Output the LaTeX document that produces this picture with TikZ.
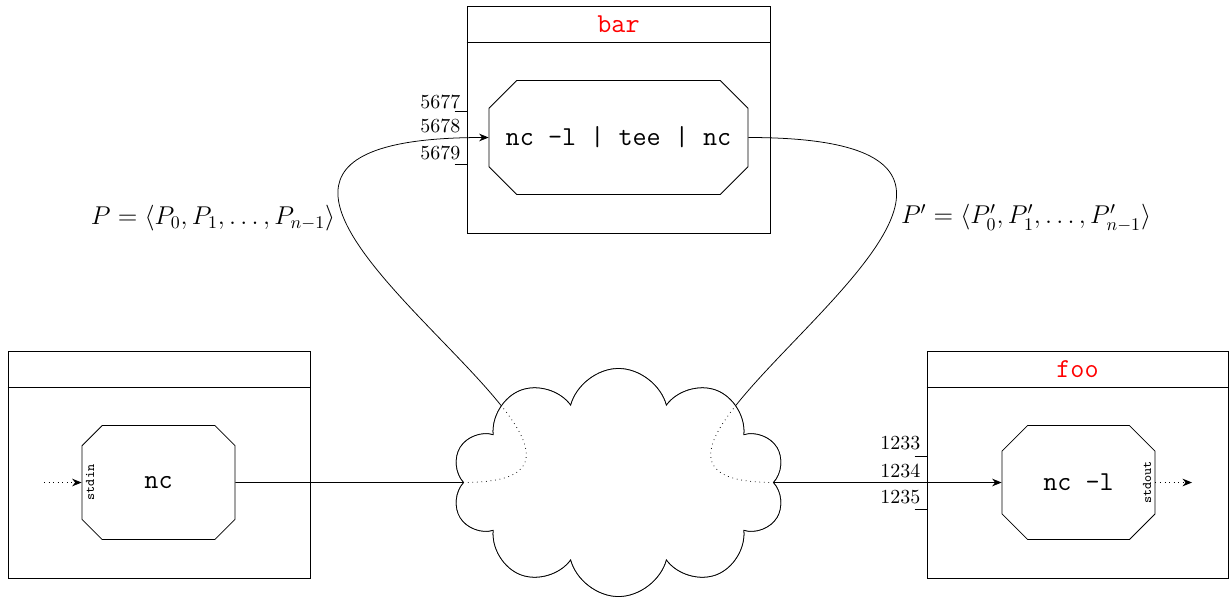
\documentclass[tikz,border=0pt]{standalone}
\usetikzlibrary{shapes.misc,shapes.symbols,arrows.meta,calc}
\begin{document}
\begin{tikzpicture}[x=0.526pt,y=-0.526pt,
  host/.style={draw, minimum width=#1*0.526pt, minimum height=227*0.526pt, inner sep=0pt},
  proc/.style={draw, chamfered rectangle, chamfered rectangle xsep=9pt, chamfered rectangle ysep=9pt, minimum height=114*0.526pt, inner sep=0pt, font=\ttfamily\Large},
  title/.style={font=\ttfamily\Large, text=red},
  port/.style={anchor=east, inner sep=1pt, font=\fontsize{10.5}{12}\selectfont},
  stdio/.style={font=\ttfamily\scriptsize, rotate=90, inner sep=1pt},
  conn/.style={draw},
  arr/.style={draw, -{Stealth[length=5pt,width=4pt]}},
  dot/.style={draw, dotted},
  mathlab/.style={font=\Large},
  netcloud/.style={cloud, cloud puffs=10, draw, minimum width=333*0.526pt, minimum height=228*0.526pt, aspect=1.46, inner sep=0pt}]
\useasboundingbox (0,0) rectangle (1230,597);

% hosts
\node[host=302] (lhost) at (159,464.5) {};
\node[host=303] (bhost) at (618.5,119.5) {};
\node[host=301] (fhost) at (1077.5,464.5) {};
\draw ($(lhost.north west)+(0,37)$) -- ($(lhost.north east)+(0,37)$);
\draw ($(bhost.north west)+(0,37)$) -- ($(bhost.north east)+(0,37)$);
\draw ($(fhost.north west)+(0,37)$) -- ($(fhost.north east)+(0,37)$);
\node[title] (btitle) at ($(bhost.north)+(0,18.5)$) {bar};
\node[title] (ftitle) at ($(fhost.north)+(0,18.5)$) {foo};

% processes
\node[proc, minimum width=153*0.526pt] (lp) at (158.5,482.5) {nc};
\node[proc, minimum width=259*0.526pt] (bp) at (618.5,137.5) {nc -l | tee | nc};
\node[proc, minimum width=153*0.526pt] (fp) at (1078.5,482.5) {nc -l};

\node[stdio, anchor=north] (stdin) at ($(lp.west)+(2,0)$) {stdin};
\node[stdio, anchor=south] (stdout) at ($(fp.east)+(-2,0)$) {stdout};
\coordinate (inS) at (44,482.5);
\coordinate (outE) at (1192,482.5);
\draw[dot, -{Stealth[length=5pt,width=4pt]}] (inS) -- (lp.west);
\draw[dot, -{Stealth[length=5pt,width=4pt]}] (fp.east) -- (outE);

% ports
\coordinate (bw) at (bhost.west |- bp.west);
\node[port] (p5677) at ($(bw)+(-4,-36)$) {5677};
\node[port] (p5678) at ($(bw)+(-4,-12)$) {5678};
\node[port] (p5679) at ($(bw)+(-4,15)$) {5679};
\draw ($(bw)+(-12,-26)$) -- ($(bw)+(0,-26)$);
\draw ($(bw)+(-12,27)$) -- ($(bw)+(0,27)$);

\coordinate (fw) at (fhost.west |- fp.west);
\node[port] (p1233) at ($(fw)+(-4,-39)$) {1233};
\node[port] (p1234) at ($(fw)+(-4,-12)$) {1234};
\node[port] (p1235) at ($(fw)+(-4,15)$) {1235};
\draw ($(fw)+(-12,-26)$) -- ($(fw)+(0,-26)$);
\draw ($(fw)+(-12,27)$) -- ($(fw)+(0,27)$);

% labels
\node[mathlab] (plab) at (213,218) {\scalebox{0.94}{$P = \langle P_0, P_1, \ldots, P_{n-1}\rangle$}};
\node[mathlab] (pplab) at (1026,218) {\scalebox{0.94}{$P' = \langle P'_0, P'_1, \ldots, P'_{n-1}\rangle$}};

% network
\node[netcloud] (net) at (618.5,482.5) {};

\draw[conn] (lp.east) -- (net.west);
\draw[arr] (net.east) -- (fp.west);
\draw[arr] (net.west) .. controls +(262,0) and +(-429,0) .. (bp.west);
\draw[conn] (net.east) .. controls +(-262,0) and +(429,0) .. (bp.east);

\node[netcloud, fill=white,
  path picture={
    \draw[dotted] (net.west) .. controls +(262,0) and +(-429,0) .. (bp.west);
    \draw[dotted] (net.east) .. controls +(-262,0) and +(429,0) .. (bp.east);
  }] (netfront) at (net) {};
\end{tikzpicture}
\end{document}
